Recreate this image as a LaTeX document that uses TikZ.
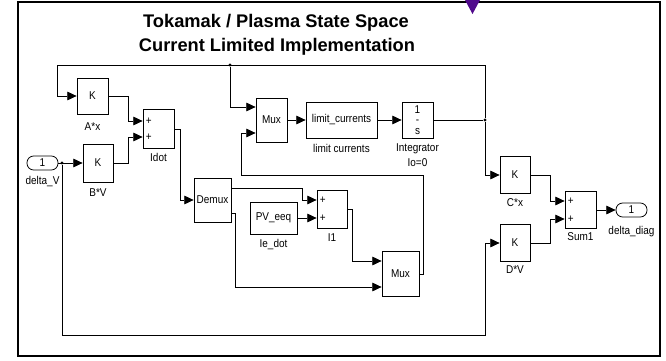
\documentclass[tikz,border=0pt]{standalone}
\usepackage{fontspec}
\setmainfont{Liberation Sans}
\newfontfamily\narrowsf{Liberation Sans}[FakeStretch=0.88]
\usetikzlibrary{arrows.meta,calc}
\definecolor{markpurple}{RGB}{80,10,140}
\tikzset{
  blk/.style 2 args={draw, line width=0.6pt, inner sep=0pt, font=\narrowsf\fontsize{8.5}{10}\selectfont,
    minimum width=#1*0.75pt, minimum height=#2*0.75pt},
  port/.style={draw, line width=0.6pt, rounded corners=5pt, inner sep=0pt,
    font=\narrowsf\fontsize{8.5}{10}\selectfont, minimum width=23.25pt, minimum height=10.5pt},
  lbl/.style={font=\narrowsf\fontsize{8.5}{10}\selectfont, inner sep=0pt},
  ttl/.style={font=\fontsize{13.7}{16}\selectfont\bfseries, inner sep=0pt},
  wire/.style={line width=0.6pt},
  arr/.style={wire, -{Triangle[length=7pt,width=6.5pt]}},
  jdot/.style={circle, fill, inner sep=0pt, minimum size=2.6pt}
}

\begin{document}
\begin{tikzpicture}[x=0.75pt,y=-0.75pt]
  \useasboundingbox (0,0) rectangle (666,360);
  \draw[line width=1.5pt] (18,2) rectangle (660,356);
  \fill[markpurple] (465,0) -- (480,0) -- (472.5,14) -- cycle;

  % title
  \node[ttl, anchor=base] (title1) at (276,27.7) {Tokamak / Plasma State Space};
  \node[ttl, anchor=base] (title2) at (277,51.7) {Current Limited Implementation};

  % blocks
  \node[port] (din) at (42.5,163) {1};
  \node[blk={31}{36}] (ax) at (92.5,96) {K};
  \node[blk={30}{38}] (bv) at (98,163) {K};
  \node[blk={31}{39}] (idot) at (158.5,129) {};
  \node[blk={37}{44}] (demux) at (212.5,200) {Demux};
  \node[blk={47}{32}] (pv) at (273.5,218) {PV\_eeq};
  \node[blk={30}{38}] (i1) at (332,209) {};
  \node[blk={37}{45}] (mux2) at (400.5,274) {Mux};
  \node[blk={31}{44}] (mux1) at (271.5,120) {Mux};
  \node[blk={71}{36}] (lim) at (341.5,120) {limit\_currents};
  \node[blk={31}{36}, align=center, font=\narrowsf\fontsize{8.5}{7.8}\selectfont] (integ) at (417.5,120) {1\\-\\s};
  \node[blk={30}{37}] (cx) at (515,175) {K};
  \node[blk={30}{37}] (dv) at (515,243) {K};
  \node[blk={31}{37}] (sum1) at (580.5,210) {};
  \node[port] (dout) at (631.5,210) {1};

  % input points
  \coordinate (idot-a) at ($(idot.west)+(0,-8)$);
  \coordinate (idot-b) at ($(idot.west)+(0,8)$);
  \coordinate (i1-a) at ($(i1.west)+(0,-9)$);
  \coordinate (i1-b) at ($(i1.west)+(0,9)$);
  \coordinate (sum1-a) at ($(sum1.west)+(0,-9)$);
  \coordinate (sum1-b) at ($(sum1.west)+(0,9)$);
  \coordinate (mux1-a) at ($(mux1.west)+(0,-13)$);
  \coordinate (mux1-b) at ($(mux1.west)+(0,13)$);
  \coordinate (mux2-a) at ($(mux2.west)+(0,-13)$);
  \coordinate (mux2-b) at ($(mux2.west)+(0,13)$);
  \coordinate (demux-a) at ($(demux.east)+(0,-12)$);
  \coordinate (demux-b) at ($(demux.east)+(0,13)$);
  \coordinate (tl) at (57,65);
  \coordinate (tr) at (485,65);
  \coordinate (botR) at (485,335);
  \coordinate (fbk) at (241,175);

  % signs
  \node[lbl, anchor=west] (idotp1) at ($(idot-a)+(3,0)$) {+};
  \node[lbl, anchor=west] (idotp2) at ($(idot-b)+(3,0)$) {+};
  \node[lbl, anchor=west] (i1p1) at ($(i1-a)+(3,0)$) {+};
  \node[lbl, anchor=west] (i1p2) at ($(i1-b)+(3,0)$) {+};
  \node[lbl, anchor=west] (sum1p1) at ($(sum1-a)+(3,0)$) {+};
  \node[lbl, anchor=west] (sum1p2) at ($(sum1-b)+(3,0)$) {+};

  % block names
  \node[lbl] (dinl) at (42.5,182) {delta\_V};
  \node[lbl] (axl) at (92.5,127) {A*x};
  \node[lbl] (bvl) at (98,193) {B*V};
  \node[lbl] (idotl) at (158.5,157) {Idot};
  \node[lbl] (pvl) at (273.5,245) {Ie\_dot};
  \node[lbl] (i1l) at (332,238) {I1};
  \node[lbl] (liml) at (341.5,148) {limit currents};
  \node[lbl, align=center, font=\narrowsf\fontsize{8.5}{11.2}\selectfont] (integl) at (417.5,155.5) {Integrator\\Io=0};
  \node[lbl] (cxl) at (515,203) {C*x};
  \node[lbl] (dvl) at (515,270) {D*V};
  \node[lbl] (sum1l) at (580.5,237) {Sum1};
  \node[lbl] (doutl) at (631.5,232) {delta\_diag};

  % junctions
  \node[jdot] (j1) at (62,163) {};
  \node[jdot] (j2) at (230,65) {};
  \node[jdot] (j3) at (485,120) {};

  % signals
  \draw[arr] (din.east) -- (bv.west);
  \draw[arr] (j1) |- (botR) |- (dv.west);
  \draw[arr] (ax.east) -- ++(20,0) |- (idot-a);
  \draw[arr] (bv.east) -- ++(15,0) |- (idot-b);
  \draw[arr] (idot.east) -- ++(6,0) |- (demux.west);
  \draw[arr] (demux-a) -- ++(71,0) |- (i1-a);
  \draw[arr] (demux-b) -- ++(4,0) |- (mux2-b);
  \draw[arr] (pv.east) -- (i1-b);
  \draw[arr] (i1.east) -- ++(5,0) |- (mux2-a);
  \draw[arr] (mux2.east) -- ++(4,0) |- (fbk) |- (mux1-b);
  \draw[arr] (j2) |- (mux1-a);
  \draw[arr] (mux1.east) -- (lim.west);
  \draw[arr] (lim.east) -- (integ.west);
  \draw[wire] (integ.east) -- (j3);
  \draw[arr] (j3) -- (tr) -- (tl) |- (ax.west);
  \draw[arr] (j3) |- (cx.west);
  \draw[arr] (cx.east) -- ++(20,0) |- (sum1-a);
  \draw[arr] (dv.east) -- ++(20,0) |- (sum1-b);
  \draw[arr] (sum1.east) -- (dout.west);
\end{tikzpicture}
\end{document}
